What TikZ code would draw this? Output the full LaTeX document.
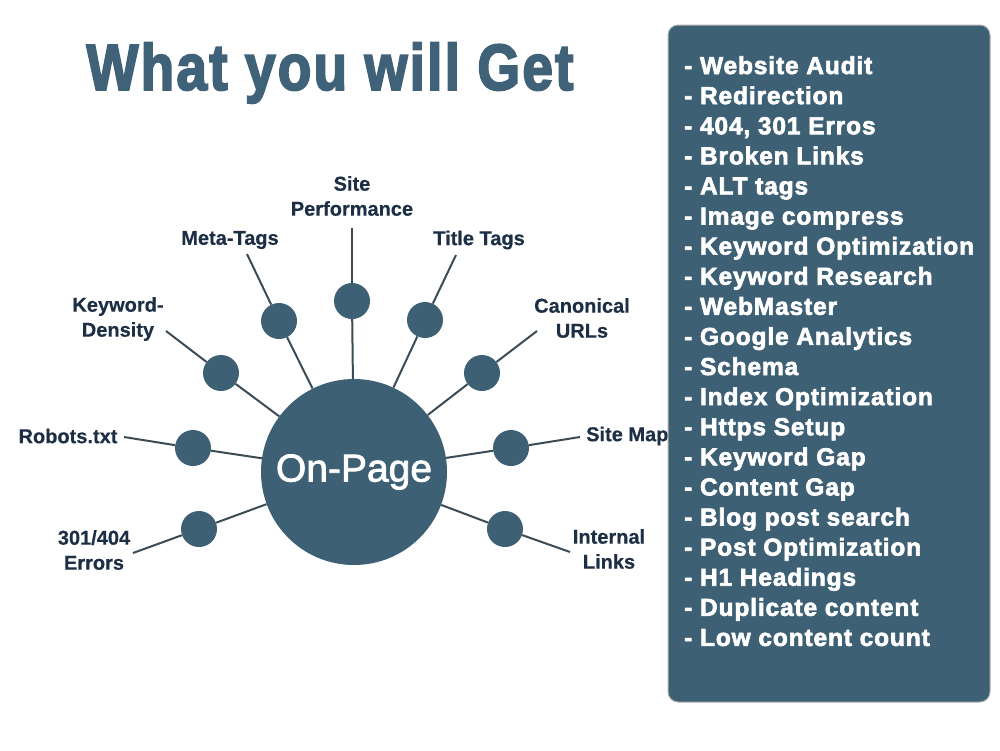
\documentclass[tikz,border=0pt]{standalone}
\usepackage{fontspec}
\setmainfont{Liberation Sans}
\newfontfamily\heavy{Liberation Sans Bold}[FakeBold=2.6,LetterSpace=3.5]
\newfontfamily\titlefont{Liberation Sans Bold}[FakeBold=3.2,LetterSpace=4]
\newfontfamily\centerfont{Liberation Sans}[FakeBold=2]
\newfontfamily\labfont{Liberation Sans Bold}[FakeBold=0.4]
\definecolor{titlec}{HTML}{3F6279}
\definecolor{circc}{HTML}{3D6074}
\definecolor{panelc}{HTML}{3E6075}
\definecolor{labc}{HTML}{1C2F45}
\definecolor{linec}{HTML}{3C4C57}
\tikzset{
  sat/.style={circle,fill=circc,minimum size=36pt,inner sep=0pt},
  lab/.style={text=labc,font=\labfont\fontsize{20}{25}\selectfont,align=center,inner sep=0pt},
  conn/.style={draw=linec,line width=2pt},
  item/.style={anchor=base west,text=white,font=\heavy\fontsize{24.5}{24.5}\selectfont,inner sep=0pt}
}
\begin{document}
\begin{tikzpicture}[x=1pt,y=-1pt]
\useasboundingbox (0,0) rectangle (1000,750);
\fill[white] (0,0) rectangle (1000,750);
% title
\node[text=titlec,font=\titlefont\fontsize{55}{55}\selectfont,inner sep=0pt,yscale=1.18,transform shape] (title) at (330,73) {What you will Get};
% main circle
\node[circle,fill=circc,minimum size=186pt,inner sep=0pt,text=white,font=\centerfont\fontsize{39}{39}\selectfont] (main) at (354,472) {On-Page};
% satellites
\node[sat] (sp) at (352,301) {};
\node[sat] (mt) at (279,321) {};
\node[sat] (tt) at (425,320) {};
\node[sat] (kd) at (221,373) {};
\node[sat] (cu) at (482,373) {};
\node[sat] (rt) at (193,448) {};
\node[sat] (sm) at (511,448) {};
\node[sat] (er) at (199,529) {};
\node[sat] (il) at (505,529) {};
% line starts
\coordinate (spA) at (352,228);
\coordinate (mtA) at (247,254);
\coordinate (ttA) at (456,255);
\coordinate (kdA) at (166,331);
\coordinate (cuA) at (537,331);
\coordinate (rtA) at (124,437);
\coordinate (smA) at (580,437);
\coordinate (erA) at (133,553);
\coordinate (ilA) at (570,552);
% connectors
\foreach \n in {sp,mt,tt,kd,cu,rt,sm,er,il}{
  \draw[conn] (\n A) -- (\n);
  \draw[conn] (\n) -- (main);
}
% labels
\node[lab] (spL) at (352,196) {Site\\Performance};
\node[lab] (mtL) at (230,240) {Meta-Tags};
\node[lab] (ttL) at (479,240) {Title Tags};
\node[lab] (kdL) at (118,319) {Keyword-\\Density};
\node[lab] (cuL) at (582,318) {Canonical\\URLs};
\node[lab] (rtL) at (68,436) {Robots.txt};
\node[lab,anchor=west] (smL) at (586,436) {Site Map};
\node[lab] (erL) at (94,550) {301/404\\Errors};
\node[lab] (ilL) at (609,549) {Internal\\Links};
% panel
\node[draw=gray!60,line width=1pt,fill=panelc,rounded corners=10pt,minimum width=322pt,minimum height=677pt,inner sep=0pt] (panel) at (829,363.5) {};
\foreach \t [count=\i from 0] in {Website Audit,Redirection,{404, 301 Erros},Broken Links,ALT tags,Image compress,Keyword Optimization,Keyword Research,WebMaster,Google Analytics,Schema,Index Optimization,Https Setup,Keyword Gap,Content Gap,Blog post search,Post Optimization,H1 Headings,Duplicate content,Low content count}{
  \node[item] (it\i) at (684,{74+30.1*\i}) {- \t};
}
\end{tikzpicture}
\end{document}
